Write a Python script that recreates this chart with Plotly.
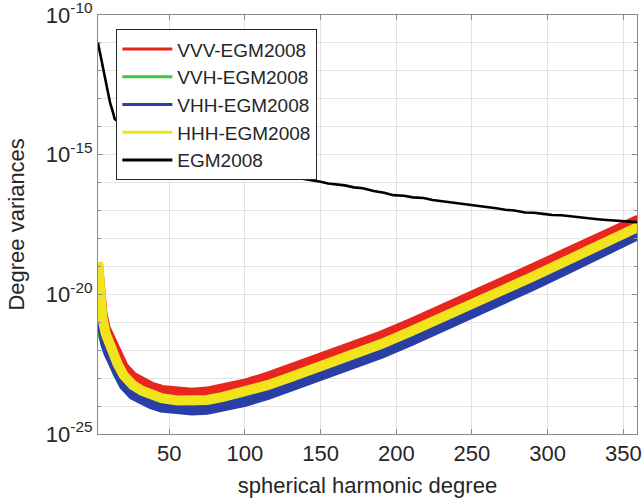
import numpy as np
import plotly.graph_objects as go

# ---- data (log10 of degree variances) ----
deg_err = [3, 4, 5, 6, 8, 10, 13, 16, 20, 26, 32, 38, 45, 55, 65, 75, 85, 100,
           115, 130, 150, 170, 190, 210, 230, 250, 270, 290, 310, 330, 345, 360]
vvv_log = [-18.9, -19.85, -20.35, -20.7, -21.2, -21.45, -21.85, -22.2, -22.6, -22.95,
           -23.15, -23.3, -23.42, -23.5, -23.52, -23.48, -23.38, -23.2, -22.95, -22.67,
           -22.3, -21.9, -21.48, -21.02, -20.55, -20.06, -19.57, -19.07, -18.57, -18.07,
           -17.7, -17.32]
vvh_log = [-20.55, -20.95, -21.25, -21.45, -21.78, -22.08, -22.45, -22.85, -23.2, -23.55,
           -23.75, -23.88, -24.0, -24.08, -24.11, -24.08, -23.98, -23.8, -23.55, -23.27,
           -22.9, -22.5, -22.08, -21.62, -21.15, -20.65, -20.15, -19.65, -19.13, -18.61,
           -18.22, -17.82]
vhh_log = [-20.35, -20.78, -21.1, -21.35, -21.8, -22.12, -22.5, -22.9, -23.25, -23.6,
           -23.8, -23.93, -24.05, -24.13, -24.16, -24.13, -24.03, -23.85, -23.6, -23.32,
           -22.95, -22.55, -22.13, -21.67, -21.2, -20.7, -20.2, -19.7, -19.18, -18.66,
           -18.27, -17.87]
hhh_log = [-18.84, -19.85, -20.45, -20.85, -21.4, -21.72, -22.15, -22.5, -22.9, -23.25,
           -23.45, -23.6, -23.72, -23.8, -23.82, -23.78, -23.68, -23.5, -23.25, -22.97,
           -22.6, -22.2, -21.78, -21.32, -20.85, -20.36, -19.87, -19.37, -18.86, -18.35,
           -17.97, -17.58]

deg_egm = [3, 5, 7, 9, 11, 13, 14, 16, 20, 30, 40, 60, 80, 100, 120, 125, 130, 137,
           143, 150, 155, 160, 166, 172, 178, 185, 192, 198, 205, 211, 218, 224, 230,
           236, 242, 248, 254, 260, 266, 272, 278, 285, 291, 297, 303, 309, 315, 321,
           327, 333, 339, 345, 351, 356, 360]
egm_log = [-11.0, -11.55, -12.1, -12.65, -13.15, -13.5, -13.72, -13.8, -14.05, -14.4,
           -14.7, -15.1, -15.35, -15.55, -15.73, -15.76, -15.8, -15.85, -15.9, -15.97,
           -16.03, -16.06, -16.1, -16.17, -16.2, -16.3, -16.36, -16.45, -16.47, -16.53,
           -16.55, -16.62, -16.66, -16.7, -16.74, -16.8, -16.83, -16.88, -16.92, -16.97,
           -17.0, -17.07, -17.08, -17.12, -17.16, -17.17, -17.21, -17.25, -17.27, -17.31,
           -17.34, -17.37, -17.39, -17.4, -17.42]

names = ["VVV-EGM2008", "VVH-EGM2008", "VHH-EGM2008", "HHH-EGM2008", "EGM2008"]
colors = ["#e8261e", "#3ec83c", "#2a3fa6", "#f2e41c", "#000000"]

y_tickvals = [1e-25, 1e-20, 1e-15, 1e-10]
y_ticktext = ["10<sup>-25</sup>", "10<sup>-20</sup>", "10<sup>-15</sup>", "10<sup>-10</sup>"]
y_minor = [10.0 ** k for k in range(-24, -10)]
x_tickvals = [50, 100, 150, 200, 250, 300, 350]

FONT = "Liberation Sans, Arial, sans-serif"
TXT = "#262626"
AX = "#8a8a8a"

fig = go.Figure()
for s, c in zip([vvv_log, vvh_log, vhh_log, hhh_log], colors[:4]):
    fig.add_trace(go.Scatter(x=deg_err, y=np.power(10.0, s), mode="lines",
                             line=dict(color=c, width=10), showlegend=False,
                             hoverinfo="skip"))
fig.add_trace(go.Scatter(x=deg_egm, y=np.power(10.0, egm_log), mode="lines",
                         line=dict(color="#000000", width=2.6), showlegend=False))

# legend entries
for n, c in zip(names, colors):
    fig.add_trace(go.Scatter(x=[None], y=[None], mode="lines", name=n,
                             line=dict(color=c, width=3)))

axis_common = dict(showline=True, linecolor=AX, linewidth=1, mirror="ticks",
                   ticks="inside", ticklen=5, tickcolor=AX,
                   showgrid=True, gridcolor="#e3e3e3", gridwidth=1, zeroline=False,
                   ticklabeloverflow="allow", automargin=False,
                   tickfont=dict(family=FONT, size=22, color=TXT))

fig.update_layout(
    width=642, height=502,
    margin=dict(l=98, r=5, t=15, b=68),
    paper_bgcolor="white", plot_bgcolor="white",
    font=dict(family=FONT, color=TXT),
    xaxis=dict(range=[3, 359], tickmode="array", tickvals=x_tickvals,
               title=dict(text="spherical harmonic degree",
                          font=dict(family=FONT, size=22, color=TXT), standoff=12),
               **axis_common),
    yaxis=dict(type="log", range=[-25, -10], tickmode="array",
               tickvals=y_tickvals, ticktext=y_ticktext,
               minor=dict(tickmode="array", tickvals=y_minor, ticks="inside",
                          ticklen=3, tickcolor=AX, showgrid=True,
                          gridcolor="#e3e3e3"),
               **axis_common),
    legend=dict(x=0.034, y=0.966, xanchor="left", yanchor="top",
                bgcolor="white", bordercolor=TXT, borderwidth=1,
                font=dict(family=FONT, size=19, color=TXT),
                itemwidth=50, tracegroupgap=0),
    annotations=[dict(text="Degree variances", textangle=-90, xref="paper", yref="paper",
                      x=-0.152, y=0.5, xanchor="center", yanchor="middle",
                      showarrow=False, font=dict(family=FONT, size=22, color=TXT))],
)

fig.write_html("out.html")
